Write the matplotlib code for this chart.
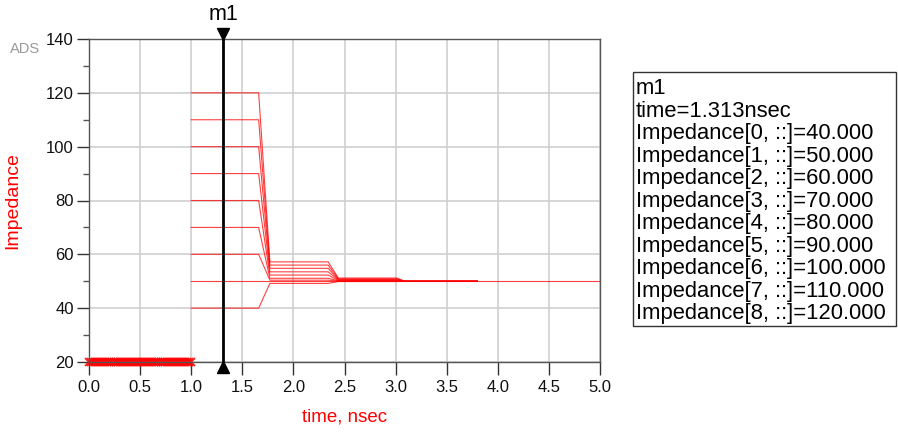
import numpy as np
import matplotlib
matplotlib.use("Agg")
import matplotlib.pyplot as plt
from matplotlib.transforms import offset_copy
from matplotlib.patches import Rectangle

plt.rcParams['font.family'] = ['Liberation Sans', 'DejaVu Sans']

# ---- data ----
impedances = [40, 50, 60, 70, 80, 90, 100, 110, 120]
# breakpoints in time (nsec) shared by all traces
t_points = [1.0, 1.66, 1.77, 2.34, 2.44, 3.01, 3.09]
# first reflected plateau level per trace
plateau1 = [49.2, 50.0, 50.4, 51.1, 52.3, 53.5, 54.8, 56.0, 57.2]
# second (small) plateau level per trace
plateau2 = [49.9, 50.0, 50.05, 50.15, 50.3, 50.5, 50.7, 50.9, 51.2]
final_level = 50.0
end_times = [3.8, 5.0, 3.8, 3.8, 3.8, 3.8, 3.8, 3.8, 3.8]

# pre-step samples (x markers)
pre_t = np.arange(0.0, 1.0001, 0.02)
pre_level = 20.0

marker_name = "m1"
marker_t = 1.313

xticks = [0.0, 0.5, 1.0, 1.5, 2.0, 2.5, 3.0, 3.5, 4.0, 4.5, 5.0]
yticks = [20, 40, 60, 80, 100, 120, 140]

# ---- figure ----
W, H = 898, 433
fig = plt.figure(figsize=(W/100, H/100), dpi=100)
ax = fig.add_axes([89/W, 1-362/H, (600-89)/W, (362-39)/H])

red = '#ff0000'
for z, p1, p2, te in zip(impedances, plateau1, plateau2, end_times):
    tt = t_points + [te]
    vv = [z, z, p1, p1, p2, p2, final_level, final_level]
    ax.plot(tt, vv, color=red, lw=0.8, alpha=0.75, solid_joinstyle='miter')

ax.plot(pre_t, np.full_like(pre_t, pre_level), color=red, lw=0.8,
        marker='x', ms=6, mew=1.4, alpha=0.85, clip_on=False)

ax.set_xlim(0, 5)
ax.set_ylim(20, 140)
ax.set_xticks(xticks)
ax.set_xticklabels([f"{v:.1f}" for v in xticks])
ax.set_yticks(yticks)
ax.set_yticks([30, 50, 70, 90, 110, 130], minor=True)
ax.grid(True, which='major', color='#cfcfcf', lw=1.2)
ax.set_axisbelow(True)
for s in ax.spines.values():
    s.set_color('#555555')
    s.set_linewidth(1.0)
ax.tick_params(axis='both', which='major', direction='out', length=9,
               width=1.0, color='#333333', labelsize=12, labelcolor='#111111')
ax.tick_params(axis='x', which='major', pad=4)
ax.tick_params(axis='y', which='major', pad=2)
ax.tick_params(axis='y', which='minor', direction='out', length=4.5,
               width=1.0, color='#555555')

ax.set_xlabel("time, nsec", color=red, fontsize=13.5, labelpad=10)
ax.set_ylabel("Impedance", color=red, fontsize=14, labelpad=18)

# marker m1
ax.plot([marker_t, marker_t], [20, 140], color='black', lw=2.0, clip_on=False, zorder=5)
trans_up = offset_copy(ax.transData, fig=fig, x=0, y=5, units='dots')
trans_dn = offset_copy(ax.transData, fig=fig, x=0, y=-5, units='dots')
ax.plot([marker_t], [140], marker='v', color='black', ms=9, transform=trans_up,
        clip_on=False, zorder=6)
ax.plot([marker_t], [20], marker='^', color='black', ms=9, transform=trans_dn,
        clip_on=False, zorder=6)
ax.text(marker_t, 140, marker_name, transform=offset_copy(ax.transData, fig=fig, x=0, y=14, units='dots'),
        ha='center', va='bottom', fontsize=15.5, color='black')

fig.text(10/W, 1-49/H, "ADS", color='#999999', fontsize=10.5, va='center', ha='left')

# readout box
box = Rectangle((633/W, 1-326/H), (896-633)/W, (326-72)/H,
                transform=fig.transFigure, fill=False, edgecolor='#333333', lw=1.0)
fig.patches.append(box)
lines = [marker_name, f"time={marker_t:.3f}nsec"] + \
        [f"Impedance[{i}, ::]={z:.3f}" for i, z in enumerate(impedances)]
for i, s in enumerate(lines):
    fig.text(636/W, 1-(94.3 + 22.5*i)/H, s, fontsize=15.8, va='baseline', ha='left',
             color='black')

fig.savefig("out.png", dpi=100)
